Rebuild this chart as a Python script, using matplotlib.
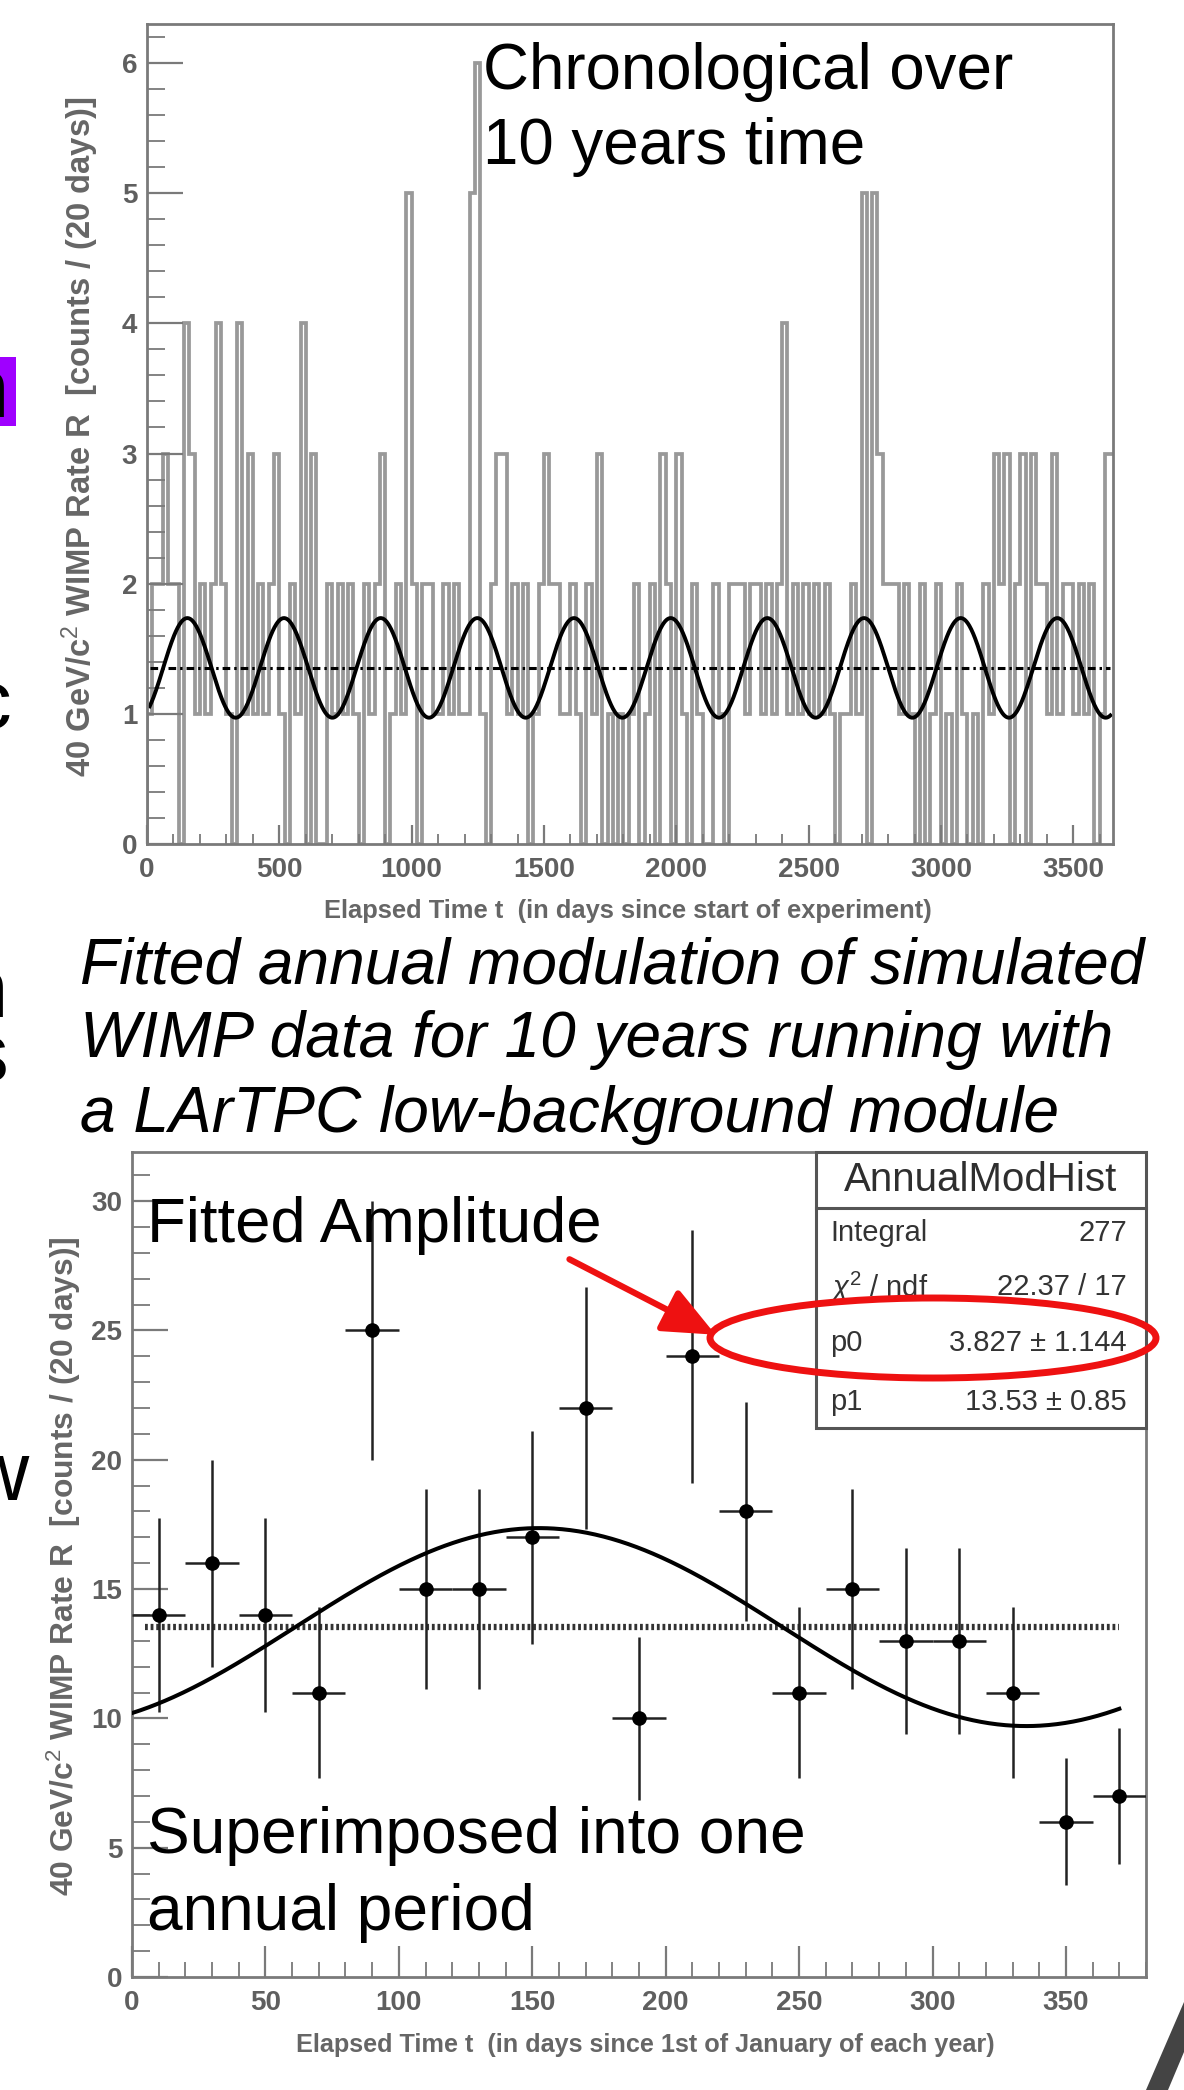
import numpy as np
import matplotlib
matplotlib.use("Agg")
import matplotlib.pyplot as plt
from matplotlib.patches import Rectangle, Ellipse, FancyArrowPatch, Polygon
from matplotlib.ticker import MultipleLocator
from matplotlib import font_manager

# ---------------- data ----------------
# chronological histogram: counts per 20-day bin over 10 years
chrono_bin_width = 20
chrono_counts = [
    1, 2, 2, 3, 2, 2, 0, 4, 3, 1,
    2, 1, 2, 4, 2, 1, 0, 4, 1, 3,
    1, 2, 1, 2, 3, 1, 0, 2, 1, 4,
    0, 3, 0, 0, 2, 1, 2, 1, 2, 1,
    0, 2, 1, 2, 3, 0, 1, 2, 1, 5,
    2, 0, 2, 2, 1, 1, 2, 1, 2, 1,
    1, 5, 6, 1, 0, 2, 3, 3, 1, 2,
    1, 2, 0, 1, 2, 3, 2, 2, 1, 1,
    2, 1, 0, 2, 1, 3, 0, 1, 0, 1,
    0, 1, 2, 0, 1, 2, 0, 3, 2, 0,
    3, 1, 0, 2, 1, 0, 0, 2, 1, 0,
    2, 2, 2, 1, 2, 2, 1, 2, 1, 2,
    4, 1, 2, 1, 2, 1, 2, 1, 2, 1,
    0, 1, 1, 2, 1, 5, 0, 5, 3, 2,
    2, 2, 1, 2, 1, 0, 2, 0, 1, 2,
    0, 1, 0, 2, 1, 0, 1, 0, 2, 1,
    3, 2, 3, 0, 2, 3, 0, 3, 2, 2,
    1, 3, 1, 2, 2, 1, 2, 1, 2, 0,
    1, 3, 3,
]
n_years = 10

# superimposed annual histogram
annual_centers = [10, 30, 50, 70, 90, 110, 130, 150, 170, 190,
                  210, 230, 250, 270, 290, 310, 330, 350, 370]
annual_counts = [14, 16, 14, 11, 25, 15, 15, 17, 22, 10,
                 24, 18, 11, 15, 13, 13, 11, 6, 7]
annual_half_width = 10

# fit parameters (from stats box)
fit_p0 = 3.827
fit_p0_err = 1.144
fit_p1 = 13.53
fit_p1_err = 0.85
fit_phase_day = 152.5
fit_period = 365.25

stats_title = "AnnualModHist"
stats_labels = ["Integral", r"$\chi^{2}$ / ndf", "p0", "p1"]
stats_values = ["277", "22.37 / 17", "3.827 \u00b1 1.144", "13.53 \u00b1 0.85"]

top_xticks = [0, 500, 1000, 1500, 2000, 2500, 3000, 3500]
top_yticks = [0, 1, 2, 3, 4, 5, 6]
bot_xticks = [0, 50, 100, 150, 200, 250, 300, 350]
bot_yticks = [0, 5, 10, 15, 20, 25, 30]

top_xlabel = "Elapsed Time t  (in days since start of experiment)"
bot_xlabel = "Elapsed Time t  (in days since 1st of January of each year)"
ylabel_txt = r"40 GeV/c$^{2}$ WIMP Rate R  [counts / (20 days)]"

# ---------------- figure ----------------
W, H = 1184, 2090
DPI = 100
fig = plt.figure(figsize=(W / DPI, H / DPI), dpi=DPI)
fig.patch.set_facecolor("white")

names = {f.name for f in font_manager.fontManager.ttflist}
BASE = "Liberation Sans" if "Liberation Sans" in names else "DejaVu Sans"
plt.rcParams["font.family"] = [BASE, "DejaVu Sans"]
plt.rcParams["mathtext.fontset"] = "custom"
plt.rcParams["mathtext.rm"] = BASE
plt.rcParams["mathtext.it"] = BASE + ":italic"
plt.rcParams["mathtext.bf"] = BASE + ":bold"


def fx(x):
    return x / W


def fy(y):
    return 1 - y / H


def axes_rect(l, t, r, b):
    return [l / W, 1 - b / H, (r - l) / W, (b - t) / H]


GRAY_AX = "#7a7a7a"
GRAY_TXT = "#5f5f5f"


def style_axes(ax, xmaj, xmin, ymaj, ymin, xlen, ylen):
    for s in ax.spines.values():
        s.set_color(GRAY_AX)
        s.set_linewidth(2.0)
    ax.xaxis.set_major_locator(MultipleLocator(xmaj))
    ax.xaxis.set_minor_locator(MultipleLocator(xmin))
    ax.yaxis.set_major_locator(MultipleLocator(ymaj))
    ax.yaxis.set_minor_locator(MultipleLocator(ymin))
    ax.tick_params(axis="x", which="major", direction="in", length=xlen, width=1.6,
                   color=GRAY_AX, labelcolor=GRAY_TXT, pad=9)
    ax.tick_params(axis="x", which="minor", direction="in", length=xlen * 0.5, width=1.3,
                   color=GRAY_AX)
    ax.tick_params(axis="y", which="major", direction="in", length=ylen, width=1.6,
                   color=GRAY_AX, labelcolor=GRAY_TXT, pad=7)
    ax.tick_params(axis="y", which="minor", direction="in", length=ylen * 0.5, width=1.3,
                   color=GRAY_AX)
    for lab in ax.get_xticklabels() + ax.get_yticklabels():
        lab.set_fontsize(20)
        lab.set_fontweight("bold")


# ---- top: chronological histogram ----
ax1 = fig.add_axes(axes_rect(147, 24, 1113, 844))
edges = np.arange(len(chrono_counts) + 1) * chrono_bin_width
ax1.stairs(chrono_counts, edges, color="#999999", lw=2.7)
t1 = np.linspace(10, 3640, 1500)
ax1.plot(t1, (fit_p1 + fit_p0 * np.cos(2 * np.pi * (t1 - fit_phase_day) / fit_period)) / n_years,
         color="black", lw=2.8)
ax1.plot([10, 3640], [fit_p1 / n_years] * 2, color="black", lw=2.2,
         dashes=(2.5, 1.3, 0.8, 1.3))
ax1.set_xlim(0, 3650)
ax1.set_ylim(0, 6.3)
ax1.set_xticks(top_xticks)
ax1.set_yticks(top_yticks)
style_axes(ax1, 500, 100, 1, 0.2, 14, 26)

# ---- bottom: annual superimposed ----
ax2 = fig.add_axes(axes_rect(132, 1152, 1146, 1977))
yerr = np.sqrt(annual_counts)
ax2.errorbar(annual_centers, annual_counts, xerr=annual_half_width, yerr=yerr,
             fmt="o", color="black", ecolor="#222222", elinewidth=1.8, capsize=0,
             markersize=9.5, zorder=3)
t2 = np.linspace(0, 370, 600)
ax2.plot(t2, fit_p1 + fit_p0 * np.cos(2 * np.pi * (t2 - fit_phase_day) / fit_period),
         color="black", lw=2.9, zorder=4)
ax2.plot([5, 370], [fit_p1, fit_p1], color="#333333", lw=4.5, dashes=(0.45, 0.45), zorder=2)
ax2.set_xlim(0, 380)
ax2.set_ylim(0, 31.9)
ax2.set_xticks(bot_xticks)
ax2.set_yticks(bot_yticks)
style_axes(ax2, 50, 10, 5, 1, 22, 26)

# stats box
sx0, sx1 = (816 - 132) / 1014, 1.0
sy0, sy1 = (1977 - 1428) / 825, 1.0
ax2.add_patch(Rectangle((sx0, sy0), sx1 - sx0, sy1 - sy0, transform=ax2.transAxes,
                        facecolor="white", edgecolor="#555555", lw=2.2, zorder=6,
                        clip_on=False))
ysep = (1977 - 1208) / 825
ax2.plot([sx0, sx1], [ysep, ysep], transform=ax2.transAxes, color="#555555", lw=2.2,
         zorder=7, clip_on=False)
title_t = ax2.text((sx0 + sx1) / 2, (1977 - 1180) / 825, stats_title, transform=ax2.transAxes,
                   ha="center", va="center", fontsize=27, color="#2e2e2e", zorder=8)
row_y = [(1977 - v) / 825 for v in (1233, 1287, 1343, 1402)]
for lab, val, yy in zip(stats_labels, stats_values, row_y):
    ax2.text((830 - 132) / 1014, yy, lab, transform=ax2.transAxes, ha="left", va="center",
             fontsize=21, color="#333333", zorder=8)
    ax2.text((1127 - 132) / 1014, yy, val, transform=ax2.transAxes, ha="right", va="center",
             fontsize=21, color="#333333", zorder=8)

# axis labels
lab_kw = dict(color="#666666", fontsize=17, fontweight="bold")
xl1 = fig.text(fx(628), fy(911), top_xlabel, ha="center", va="center", **lab_kw)
yl1 = fig.text(fx(80), fy(437), ylabel_txt, ha="center", va="center", rotation=90, **lab_kw)
xl2 = fig.text(fx(645), fy(2045), bot_xlabel, ha="center", va="center", **lab_kw)
yl2 = fig.text(fx(64), fy(1566), ylabel_txt, ha="center", va="center", rotation=90, **lab_kw)

# annotation texts
big_kw = dict(color="black", fontsize=45, va="baseline", ha="left")
chrono1 = fig.text(fx(483), fy(89), "Chronological over", **big_kw)
chrono2 = fig.text(fx(483), fy(164), "10 years time", **big_kw)
cap_lines = ["Fitted annual modulation of simulated",
             "WIMP data for 10 years running with",
             "a LArTPC low-background module"]
cap_base = [983, 1057, 1132]
caps = [fig.text(fx(80), fy(b), s, style="italic", **big_kw) for s, b in zip(cap_lines, cap_base)]
amp = fig.text(fx(147), fy(1242), "Fitted Amplitude", **big_kw)
sup1 = fig.text(fx(147), fy(1853), "Superimposed into one", **big_kw)
sup2 = fig.text(fx(147), fy(1930), "annual period", **big_kw)

# slide fragments at left edge
fig.add_artist(Rectangle((0, fy(426)), fx(16), (426 - 357) / H, transform=fig.transFigure,
                         facecolor="#9f00ff", edgecolor="none", zorder=1))
frag_kw = dict(color="black", fontsize=60, ha="right", va="center", zorder=2)
fig.text(fx(9), fy(395), "n", **frag_kw)
fig.text(fx(11), fy(706), "c", **frag_kw)
fig.text(fx(8), fy(1027), "n\ns", multialignment="right", linespacing=0.78, **frag_kw)
fig.text(fx(28), fy(1478), "w", **frag_kw)

# red ellipse and arrow
fig.add_artist(Ellipse((fx(933), fy(1338)), 446 / W, 80 / H, transform=fig.transFigure,
                       fill=False, edgecolor="#ee1111", lw=5, zorder=20))
fig.add_artist(FancyArrowPatch((fx(567), fy(1258)), (fx(718), fy(1336)),
                               transform=fig.transFigure,
                               arrowstyle="-|>,head_length=3.2,head_width=1.4",
                               mutation_scale=10, color="#ee1111", lw=4.5, zorder=20))

# dark corner shape
fig.add_artist(Polygon([(fx(1146), fy(2090)), (fx(1184), fy(2002)), (fx(1184), fy(2052)),
                        (fx(1168), fy(2090))], closed=True, transform=fig.transFigure,
                       facecolor="#444444", edgecolor="none", zorder=1))

# ---- fit text sizes to the reference widths ----
fig.canvas.draw()
r = fig.canvas.get_renderer()


def fit(t, target, vertical=False, others=()):
    for _ in range(3):
        bb = t.get_window_extent(r)
        size = bb.height if vertical else bb.width
        t.set_fontsize(t.get_fontsize() * target / size)
    for o in others:
        o.set_fontsize(t.get_fontsize())


fit(xl1, 608)
fit(xl2, 700)
fit(yl1, 680, vertical=True)
fit(yl2, 662, vertical=True)
fit(title_t, 272)
fit(chrono1, 530, others=[chrono2])
fit(caps[0], 1064, others=caps[1:])
fit(amp, 455)
fit(sup1, 657, others=[sup2])

fig.savefig("out.png", dpi=DPI, facecolor="white")
